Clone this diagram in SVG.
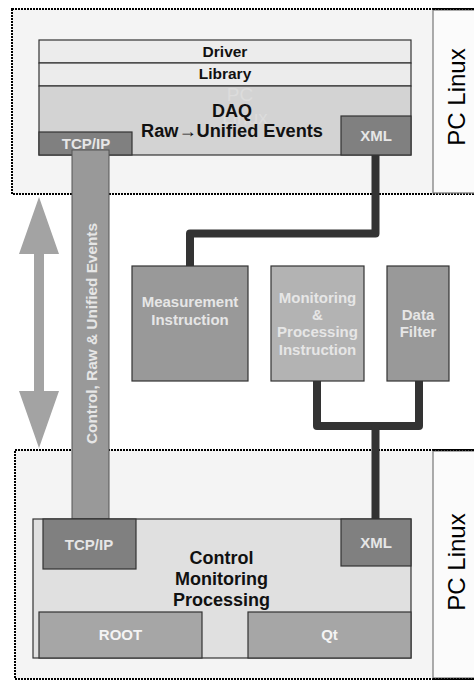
<svg xmlns="http://www.w3.org/2000/svg" width="474" height="681" viewBox="0 0 474 681">
<style>
  .host { fill: #f4f4f4; stroke: #000; stroke-width: 2; stroke-dasharray: 2 1; }
  .dots { fill: none; stroke: #000; stroke-width: 2; stroke-dasharray: 2 1; }
  .os { fill: #fbfbfb; stroke: #777; stroke-width: 1.2; }
  .ostxt { font-family: "Liberation Sans", Arial, sans-serif; font-size: 24px; fill: #000; }
  .box { stroke: #333; stroke-width: 1.2; }
  .t { font-family: "Liberation Sans", Arial, sans-serif; font-weight: bold; text-anchor: middle; }
  .dark { fill: #111; }
  .light { fill: #e6e6e6; }
  .wm { font-family: "Liberation Sans", Arial, sans-serif; font-size: 19px; fill: #ffffff; fill-opacity: 0.22; text-anchor: middle; }
  .conn { fill: none; stroke: #333; stroke-width: 8; stroke-linejoin: round; }
</style>

<g id="host-top">
  <rect class="host" x="12" y="9" width="470" height="185"/>
  <rect class="os" x="433" y="10" width="48" height="183"/>
  <path class="dots" d="M433,9 H474"/>
  <text class="ostxt" transform="translate(465,97) rotate(-90)" text-anchor="middle">PC Linux</text>
</g>

<g id="host-bottom">
  <rect class="host" x="15" y="450" width="470" height="229"/>
  <rect class="os" x="433" y="451" width="48" height="227"/>
  <path class="dots" d="M433,450 H474 M433,679 H474"/>
  <text class="ostxt" transform="translate(465,562) rotate(-90)" text-anchor="middle">PC Linux</text>
</g>

<g id="daq">
  <rect class="box" x="39" y="40" width="372" height="23" fill="#ececec"/>
  <text class="t dark" x="225" y="57" font-size="15.5">Driver</text>
  <rect class="box" x="39" y="63" width="372" height="23" fill="#ececec"/>
  <text class="t dark" x="225" y="79" font-size="15.5">Library</text>
  <rect class="box" x="39" y="86" width="372" height="69" fill="#d3d3d3"/>
  <text class="wm" x="240" y="101">PC</text>
  <text class="wm" x="245" y="124">Linux</text>
  <text class="t dark" x="232" y="117" font-size="18">DAQ</text>
  <text class="t dark" x="232" y="137" font-size="18" textLength="182" lengthAdjust="spacingAndGlyphs">Raw→Unified Events</text>
</g>

<g id="daq-tcpip">
  <rect class="box" x="39" y="132" width="93" height="23" fill="#808080"/>
  <text class="t light" x="86" y="149" font-size="15">TCP/IP</text>
</g>

<g id="daq-xml">
  <rect class="box" x="341" y="116" width="70" height="39" fill="#808080"/>
  <text class="t light" x="376" y="141" font-size="15">XML</text>
</g>

<g id="channel">
  <rect x="72" y="150" width="37" height="369" fill="#999999" stroke="#555" stroke-width="1"/>
  <text class="t light" transform="translate(96.5,333.5) rotate(-90)" font-size="15" textLength="221" lengthAdjust="spacingAndGlyphs">Control, Raw &amp; Unified Events</text>
</g>

<g id="double-arrow">
  <polygon points="39,197 59,254 44,254 44,391 59,391 39,448 19,391 34,391 34,254 19,254" fill="#a3a3a3"/>
</g>

<g id="connectors">
  <path class="conn" d="M375.5,155 V233.5 H190 V266"/>
  <path class="conn" d="M317,381 V426 H419 V381"/>
  <path class="conn" d="M375.5,426 V519"/>
</g>

<g id="measurement">
  <rect class="box" x="132" y="266" width="116" height="115" fill="#999999"/>
  <text class="t light" x="190" y="307" font-size="15">Measurement</text>
  <text class="t light" x="190" y="325" font-size="15">Instruction</text>
</g>

<g id="monitoring">
  <rect class="box" x="271" y="266" width="93" height="115" fill="#b3b3b3"/>
  <text class="t light" x="317.5" y="303" font-size="15">Monitoring</text>
  <text class="t light" x="317.5" y="320" font-size="15">&amp;</text>
  <text class="t light" x="317.5" y="337" font-size="15">Processing</text>
  <text class="t light" x="317.5" y="355" font-size="15">Instruction</text>
</g>

<g id="data-filter">
  <rect class="box" x="387" y="266" width="62" height="115" fill="#999999"/>
  <text class="t light" x="418" y="320" font-size="15">Data</text>
  <text class="t light" x="418" y="337" font-size="15">Filter</text>
</g>

<g id="control">
  <rect class="box" x="33" y="519" width="378" height="139" fill="#e0e0e0"/>
  <text class="t dark" x="221.5" y="564" font-size="18">Control</text>
  <text class="t dark" x="221.5" y="585" font-size="18">Monitoring</text>
  <text class="t dark" x="221.5" y="606" font-size="18">Processing</text>
</g>

<g id="ctrl-tcpip">
  <rect class="box" x="43" y="519" width="93" height="50" fill="#808080"/>
  <text class="t light" x="89" y="550" font-size="15">TCP/IP</text>
</g>

<g id="ctrl-xml">
  <rect class="box" x="341" y="519" width="70" height="47" fill="#808080"/>
  <text class="t light" x="376" y="548" font-size="15">XML</text>
</g>

<g id="root">
  <rect class="box" x="39" y="612" width="163" height="46" fill="#a6a6a6"/>
  <text class="t" x="120.5" y="640" font-size="15" fill="#f4f4f4">ROOT</text>
</g>

<g id="qt">
  <rect class="box" x="248" y="612" width="163" height="46" fill="#a6a6a6"/>
  <text class="t" x="329.5" y="640" font-size="15" fill="#f4f4f4">Qt</text>
</g>
</svg>
